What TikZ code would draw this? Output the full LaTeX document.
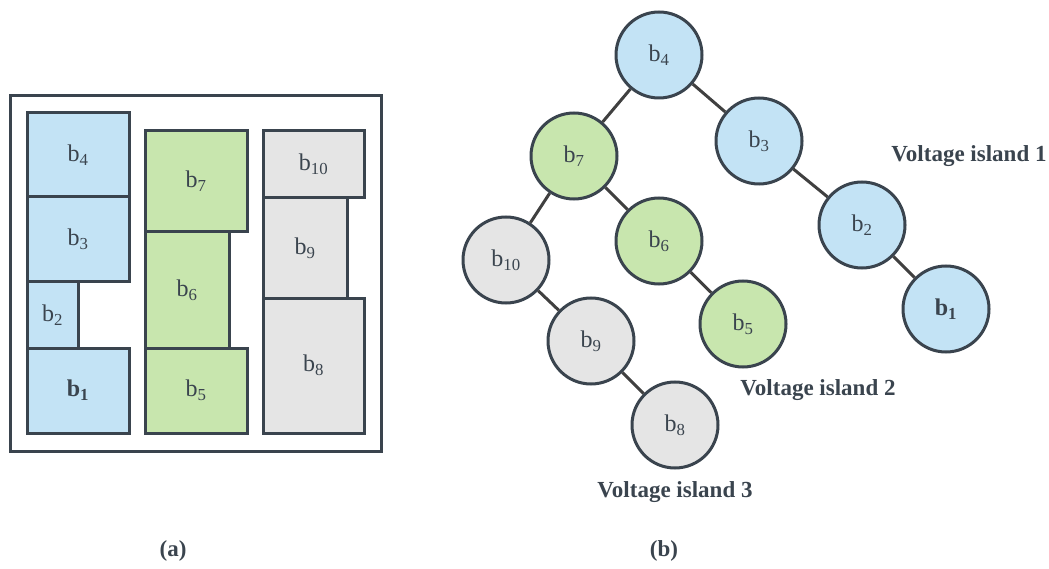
\documentclass[tikz,border=0pt]{standalone}
\usepackage{fontspec}
\setmainfont{Liberation Serif}
\usepackage{tikz}
\usetikzlibrary{shapes}
\definecolor{islandblue}{HTML}{C3E3F5}
\definecolor{islandgreen}{HTML}{C8E6AE}
\definecolor{islandgray}{HTML}{E5E5E5}
\definecolor{edgeslate}{HTML}{3A444E}
\newcommand{\blk}[1]{b\textsubscript{#1}}

\begin{document}
\begin{tikzpicture}[x=1pt, y=-1pt]
	\tikzstyle{every node} = [text=edgeslate, font=\fontsize{24}{28}\selectfont]
	\tikzstyle{module} = [rectangle, draw=edgeslate, line width=3pt, inner sep=0pt]
	\tikzstyle{vertex} = [circle, draw=edgeslate, line width=3pt, minimum size=86pt, inner sep=0pt]
	\tikzstyle{caption} = [font=\fontsize{23}{26}\selectfont\bfseries]
	\useasboundingbox (0,0) rectangle (1049,569);
	% (a) floorplan
	\node (chip) [rectangle, draw=edgeslate, line width=3pt, minimum width=371pt, minimum height=355pt] at (195.5,273.5) {};
	\node (fb4)  [module, fill=islandblue, minimum width=102pt, minimum height=84pt]  at (78,155)    {\blk{4}};
	\node (fb3)  [module, fill=islandblue, minimum width=102pt, minimum height=85pt]  at (78,239.5)  {\blk{3}};
	\node (fb2)  [module, fill=islandblue, minimum width=51pt,  minimum height=66pt]  at (52.5,315)  {\blk{2}};
	\node (fb1)  [module, fill=islandblue, minimum width=102pt, minimum height=85pt]  at (78,390.5)  {\textbf{\blk{1}}};
	\node (fb7)  [module, fill=islandgreen, minimum width=102pt, minimum height=101pt] at (196,181.5) {\blk{7}};
	\node (fb6)  [module, fill=islandgreen, minimum width=84pt,  minimum height=116pt] at (187,290)   {\blk{6}};
	\node (fb5)  [module, fill=islandgreen, minimum width=102pt, minimum height=85pt]  at (196,390.5) {\blk{5}};
	\node (fb10) [module, fill=islandgray, minimum width=101pt, minimum height=67pt]  at (313.5,164.5) {\blk{10}};
	\node (fb9)  [module, fill=islandgray, minimum width=84pt,  minimum height=100pt] at (305,248)     {\blk{9}};
	\node (fb8)  [module, fill=islandgray, minimum width=101pt, minimum height=135pt] at (313.5,365.5) {\blk{8}};
	% (b) B*-tree
	\node (b4)  [vertex, fill=islandblue]  at (659,55)  {\blk{4}};
	\node (b3)  [vertex, fill=islandblue]  at (759,141) {\blk{3}};
	\node (b2)  [vertex, fill=islandblue]  at (862,225) {\blk{2}};
	\node (b1)  [vertex, fill=islandblue]  at (946,309) {\textbf{\blk{1}}};
	\node (b7)  [vertex, fill=islandgreen] at (574,156) {\blk{7}};
	\node (b6)  [vertex, fill=islandgreen] at (659,241) {\blk{6}};
	\node (b5)  [vertex, fill=islandgreen] at (743,324) {\blk{5}};
	\node (b10) [vertex, fill=islandgray]  at (506,260) {\blk{10}};
	\node (b9)  [vertex, fill=islandgray]  at (591,341) {\blk{9}};
	\node (b8)  [vertex, fill=islandgray]  at (675,425) {\blk{8}};
	\draw [line width=3pt, draw=black!75] (b4) -- (b7);
	\draw [line width=3pt, draw=black!75] (b4) -- (b3);
	\draw [line width=3pt, draw=black!75] (b3) -- (b2);
	\draw [line width=3pt, draw=black!75] (b2) -- (b1);
	\draw [line width=3pt, draw=black!75] (b7) -- (b10);
	\draw [line width=3pt, draw=black!75] (b7) -- (b6);
	\draw [line width=3pt, draw=black!75] (b6) -- (b5);
	\draw [line width=3pt, draw=black!75] (b10) -- (b9);
	\draw [line width=3pt, draw=black!75] (b9) -- (b8);
	\node (vi1) [caption] at (969,156) {Voltage island 1};
	\node (vi2) [caption] at (818,390) {Voltage island 2};
	\node (vi3) [caption] at (675,492) {Voltage island 3};
	\node (capa) [caption] at (173,551) {(a)};
	\node (capb) [caption] at (664,551) {(b)};
\end{tikzpicture}
\end{document}
